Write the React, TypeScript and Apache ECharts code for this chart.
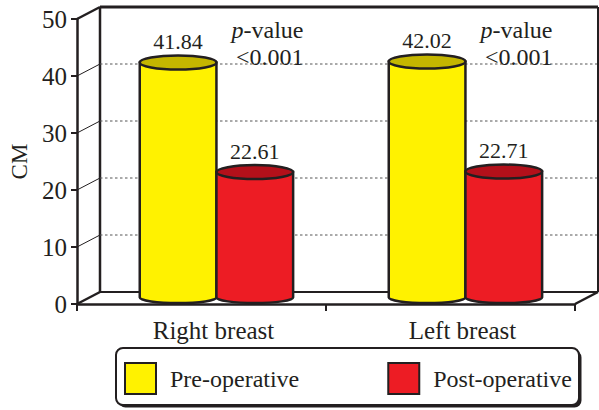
import React, { useEffect, useRef } from "react";
import * as echarts from "echarts";

const categories = ["Right breast", "Left breast"];
const preOperative = [41.84, 42.02];
const postOperative = [22.61, 22.71];
const pValues = ["<0.001", "<0.001"];
const yTicks = [0, 10, 20, 30, 40, 50];

const INK = "#231f20";
const FONT = "Liberation Serif";
const DX = 23;
const DY = -12;

function cylinder(offsetFrac: number, side: string, top: string) {
  return (params: any, api: any) => {
    const idx = api.value(0);
    const v = api.value(1);
    const p = api.coord([idx, v]);
    const b = api.coord([idx, 0]);
    const band = api.size([1, 0])[0];
    const cx = p[0] + band * (0.06 + offsetFrac);
    const rx = band * 0.154;
    const ty = p[1] - 3;
    const by = b[1] - 6.5;
    const ryT = 7;
    const ryB = 5.5;
    const d = `M ${cx - rx} ${ty} L ${cx - rx} ${by} A ${rx} ${ryB} 0 0 0 ${cx + rx} ${by} L ${cx + rx} ${ty} Z`;
    return {
      type: "group",
      children: [
        {
          type: "path",
          shape: { pathData: d },
          style: { fill: side, stroke: INK, lineWidth: 2.5 },
        },
        {
          type: "ellipse",
          shape: { cx, cy: ty, rx, ry: ryT },
          style: { fill: top, stroke: INK, lineWidth: 2.5 },
        },
        {
          type: "text",
          style: {
            text: v.toFixed(2),
            x: cx,
            y: ty - ryT - 3,
            textAlign: "center",
            textVerticalAlign: "bottom",
            align: "center",
            verticalAlign: "bottom",
            fontSize: 22,
            fontFamily: FONT,
            fill: INK,
          },
        },
      ],
    };
  };
}

export default function App() {
  const ref = useRef<HTMLDivElement>(null);
  useEffect(() => {
    document.body.style.margin = "0";
    const chart = echarts.init(ref.current!, undefined, { renderer: "svg" });
    const option: any = {
      animation: false,
      textStyle: { fontFamily: FONT, color: INK },
      grid: { left: 77, right: 24, top: 19, bottom: 106 },
      xAxis: {
        type: "category",
        data: categories,
        axisLine: { lineStyle: { color: INK, width: 2.5 } },
        axisTick: { show: true, length: 7, lineStyle: { color: INK, width: 2 } },
        axisLabel: {
          fontSize: 25,
          color: INK,
          fontFamily: FONT,
          margin: 14,
          padding: [0, 0, 0, 24],
        },
        splitLine: { show: false },
      },
      yAxis: {
        type: "value",
        min: 0,
        max: 50,
        interval: 10,
        name: "CM",
        nameLocation: "middle",
        nameRotate: 90,
        nameGap: 46,
        nameTextStyle: { fontSize: 23, color: "#231f20", fontFamily: FONT },
        axisLine: { show: true, lineStyle: { color: INK, width: 2.5 } },
        axisTick: { show: true, length: 6, lineStyle: { color: INK, width: 2 } },
        axisLabel: { fontSize: 25, color: INK, fontFamily: FONT, margin: 10 },
        splitLine: { show: false },
      },
      legend: {
        data: ["Pre-operative", "Post-operative"],
        left: 124,
        top: 362,
        padding: 0,
        icon: "rect",
        itemWidth: 31,
        itemHeight: 31,
        itemGap: 88,
        itemStyle: { borderColor: INK, borderWidth: 2 },
        textStyle: { fontSize: 24, color: INK, fontFamily: FONT, padding: [0, 0, 0, 9] },
        selectedMode: false,
      },
      graphic: [
        {
          type: "rect",
          z: -1,
          shape: { x: 118.5, y: 350.5, width: 463, height: 57, r: 7 },
          style: { fill: INK },
        },
        {
          type: "rect",
          z: 0,
          shape: { x: 116, y: 348, width: 463, height: 57, r: 7 },
          style: { fill: "#fff", stroke: INK, lineWidth: 2 },
        },
      ],
      series: [
        {
          type: "custom",
          name: "frame",
          z: 1,
          silent: true,
          data: yTicks.map((v) => [0, v]),
          renderItem: (params: any, api: any) => {
            const cs = params.coordSys;
            const v = api.value(1);
            const y = api.coord([0, v])[1];
            const yTop = api.coord([0, yTicks[yTicks.length - 1]])[1];
            const yBase = api.coord([0, yTicks[0]])[1];
            const x0 = cs.x;
            const x1 = cs.x + cs.width;
            const isEdge = v === yTicks[0] || v === yTicks[yTicks.length - 1];
            const children: any[] = [];
            children.push({
              type: "line",
              shape: { x1: x0, y1: y, x2: x0 + DX, y2: y + DY },
              style: { stroke: INK, lineWidth: isEdge ? 2.5 : 1 },
            });
            if (!isEdge) {
              children.push({
                type: "line",
                shape: { x1: x0 + DX, y1: y + DY, x2: x1 + DX, y2: y + DY },
                style: { stroke: "#555", lineWidth: 1, lineDash: [2.5, 2.5] },
              });
            }
            if (v === yTicks[yTicks.length - 1]) {
              children.push({
                type: "line",
                shape: { x1: x0 + DX, y1: y + DY, x2: x1 + DX, y2: y + DY },
                style: { stroke: INK, lineWidth: 3 },
              });
              children.push({
                type: "line",
                shape: { x1: x1 + DX, y1: y + DY, x2: x1 + DX, y2: yBase + DY },
                style: { stroke: INK, lineWidth: 2 },
              });
            }
            if (v === yTicks[0]) {
              children.push({
                type: "line",
                shape: { x1: x0 + DX, y1: y + DY, x2: x1 + DX, y2: y + DY },
                style: { stroke: INK, lineWidth: 2 },
              });
              children.push({
                type: "line",
                shape: { x1: x1, y1: y, x2: x1 + DX, y2: y + DY },
                style: { stroke: INK, lineWidth: 2.5 },
              });
              children.push({
                type: "line",
                shape: { x1: x0 + DX, y1: y + DY, x2: x0 + DX, y2: yTop + DY },
                style: { stroke: INK, lineWidth: 2.5 },
              });
            }
            return { type: "group", children };
          },
        },
        {
          type: "custom",
          name: "Pre-operative",
          z: 3,
          silent: true,
          itemStyle: { color: "#FFF200" },
          data: preOperative.map((v, i) => [i, v]),
          renderItem: cylinder(-0.154, "#FFF200", "#C4B600"),
        },
        {
          type: "custom",
          name: "Post-operative",
          z: 3,
          silent: true,
          itemStyle: { color: "#ED1C24" },
          data: postOperative.map((v, i) => [i, v]),
          renderItem: cylinder(0.154, "#ED1C24", "#B3101A"),
        },
        {
          type: "custom",
          name: "annot",
          z: 4,
          silent: true,
          data: pValues.map((_, i) => [i, yTicks[yTicks.length - 1]]),
          renderItem: (params: any, api: any) => {
            const idx = api.value(0);
            const p = api.coord([idx, api.value(1)]);
            const xr = p[0] + 102;
            return {
              type: "group",
              children: [
                {
                  type: "text",
                  style: {
                    text: "{i|p}-value",
                    rich: { i: { fontStyle: "italic", fontSize: 24, fontFamily: FONT, fill: INK } },
                    x: xr,
                    y: p[1] + 11,
                    textAlign: "right",
                    textVerticalAlign: "middle",
                    align: "right",
                    verticalAlign: "middle",
                    fontSize: 24,
                    fontFamily: FONT,
                    fill: INK,
                  },
                },
                {
                  type: "text",
                  style: {
                    text: pValues[idx],
                    x: xr,
                    y: p[1] + 37.5,
                    textAlign: "right",
                    textVerticalAlign: "middle",
                    align: "right",
                    verticalAlign: "middle",
                    fontSize: 24,
                    fontFamily: FONT,
                    fill: INK,
                  },
                },
              ],
            };
          },
        },
      ],
    };
    chart.setOption(option);
    return () => chart.dispose();
  }, []);
  return <div ref={ref} style={{ width: 599, height: 410 }} />;
}
